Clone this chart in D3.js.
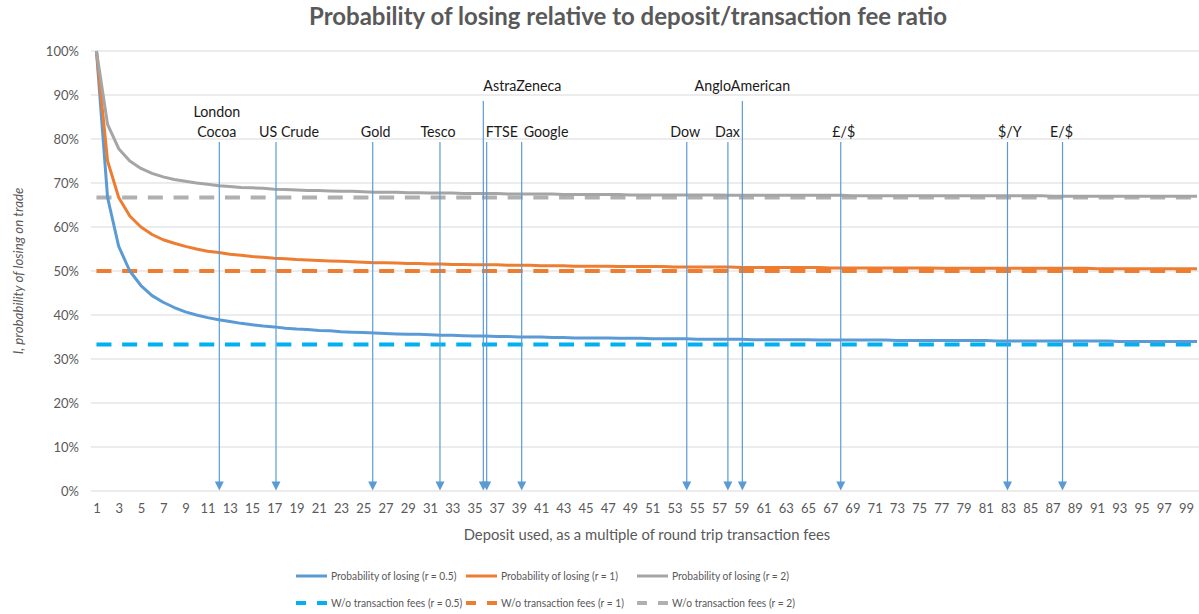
<!DOCTYPE html>
<html>
<head>
<meta charset="utf-8">
<script src="https://cdn.jsdelivr.net/npm/d3@7/dist/d3.min.js"></script>
<style>
  body { margin: 0; background: #fff; }
  svg { font-family: Lato, "Open Sans", sans-serif; }
</style>
</head>
<body>
<svg id="chart" width="1199" height="614"></svg>
<script>
// Deposit as multiple of round trip fees (x categories)
const deposits = d3.range(1, 101)
const xTickLabels = deposits.filter(d => d % 2 === 1)
const yTickLabels = [0, 10, 20, 30, 40, 50, 60, 70, 80, 90, 100]

// Probability of losing (%)
const loseHalf = [
  100, 66.7, 55.6, 50.0, 46.7, 44.4, 42.9, 41.7, 40.7, 40.0,
  39.4, 38.9, 38.5, 38.1, 37.8, 37.5, 37.3, 37.0, 36.8, 36.7,
  36.5, 36.4, 36.2, 36.1, 36.0, 35.9, 35.8, 35.7, 35.6, 35.6,
  35.5, 35.4, 35.4, 35.3, 35.2, 35.2, 35.1, 35.1, 35.0, 35.0,
  35.0, 34.9, 34.9, 34.8, 34.8, 34.8, 34.8, 34.7, 34.7, 34.7,
  34.6, 34.6, 34.6, 34.6, 34.5, 34.5, 34.5, 34.5, 34.5, 34.4,
  34.4, 34.4, 34.4, 34.4, 34.4, 34.3, 34.3, 34.3, 34.3, 34.3,
  34.3, 34.3, 34.2, 34.2, 34.2, 34.2, 34.2, 34.2, 34.2, 34.2,
  34.2, 34.1, 34.1, 34.1, 34.1, 34.1, 34.1, 34.1, 34.1, 34.1,
  34.1, 34.1, 34.0, 34.0, 34.0, 34.0, 34.0, 34.0, 34.0, 34.0
]
const loseOne = [
  100, 75.0, 66.7, 62.5, 60.0, 58.3, 57.1, 56.3, 55.6, 55.0,
  54.5, 54.2, 53.8, 53.6, 53.3, 53.1, 52.9, 52.8, 52.6, 52.5,
  52.4, 52.3, 52.2, 52.1, 52.0, 51.9, 51.9, 51.8, 51.7, 51.7,
  51.6, 51.6, 51.5, 51.5, 51.4, 51.4, 51.4, 51.3, 51.3, 51.3,
  51.2, 51.2, 51.2, 51.1, 51.1, 51.1, 51.1, 51.0, 51.0, 51.0,
  51.0, 51.0, 50.9, 50.9, 50.9, 50.9, 50.9, 50.9, 50.8, 50.8,
  50.8, 50.8, 50.8, 50.8, 50.8, 50.8, 50.7, 50.7, 50.7, 50.7,
  50.7, 50.7, 50.7, 50.7, 50.7, 50.7, 50.6, 50.6, 50.6, 50.6,
  50.6, 50.6, 50.6, 50.6, 50.6, 50.6, 50.6, 50.6, 50.6, 50.6,
  50.5, 50.5, 50.5, 50.5, 50.5, 50.5, 50.5, 50.5, 50.5, 50.5
]
const loseTwo = [
  100, 83.3, 77.8, 75.0, 73.3, 72.2, 71.4, 70.8, 70.4, 70.0,
  69.7, 69.4, 69.2, 69.0, 68.9, 68.8, 68.6, 68.5, 68.4, 68.3,
  68.3, 68.2, 68.1, 68.1, 68.0, 67.9, 67.9, 67.9, 67.8, 67.8,
  67.7, 67.7, 67.7, 67.6, 67.6, 67.6, 67.6, 67.5, 67.5, 67.5,
  67.5, 67.5, 67.4, 67.4, 67.4, 67.4, 67.4, 67.4, 67.3, 67.3,
  67.3, 67.3, 67.3, 67.3, 67.3, 67.3, 67.3, 67.2, 67.2, 67.2,
  67.2, 67.2, 67.2, 67.2, 67.2, 67.2, 67.2, 67.2, 67.1, 67.1,
  67.1, 67.1, 67.1, 67.1, 67.1, 67.1, 67.1, 67.1, 67.1, 67.1,
  67.1, 67.1, 67.1, 67.1, 67.1, 67.1, 67.0, 67.0, 67.0, 67.0,
  67.0, 67.0, 67.0, 67.0, 67.0, 67.0, 67.0, 67.0, 67.0, 67.0
]

// Without transaction fees (flat levels, %)
const noFeeHalf = 33.3
const noFeeOne = 50.0
const noFeeTwo = 66.7

// Markets marked with arrows, at their deposit/fee ratio
const marketNames = ["London Cocoa", "US Crude", "Gold", "Tesco", "AstraZeneca", "FTSE",
  "Google", "Dow", "Dax", "AngloAmerican", "£/$", "$/Y", "E/$"]
const marketRatios = [12.05, 17.15, 25.85, 31.9, 35.8, 36.1, 39.25, 54.1, 57.8, 59.1, 67.95, 82.95, 87.9]

const series = [
  { name: "Probability of losing (r = 0.5)", values: loseHalf, color: "#5b9bd5" },
  { name: "Probability of losing (r = 1)", values: loseOne, color: "#ed7d31" },
  { name: "Probability of losing (r = 2)", values: loseTwo, color: "#a5a5a5" }
]
const levels = [
  { name: "W/o transaction fees (r = 0.5)", value: noFeeHalf, color: "#00b0f0" },
  { name: "W/o transaction fees (r = 1)", value: noFeeOne, color: "#ed7d31" },
  { name: "W/o transaction fees (r = 2)", value: noFeeTwo, color: "#b0b0b0" }
]

const svg = d3.select("#chart")
const width = 1199
const height = 614
const textGrey = "#595959"

svg.append("rect").attr("width", width).attr("height", height).attr("fill", "#fff")

// Scales: category centres, 0.5 either side
const x = d3.scaleLinear().domain([0.5, 100.5]).range([90.9, 1202.6])
const y = d3.scaleLinear().domain([0, 100]).range([491, 51])

// Gridlines
svg.append("g")
  .selectAll("line")
  .data(yTickLabels)
  .join("line")
  .attr("x1", x(0.5))
  .attr("x2", x(100.5))
  .attr("y1", d => y(d))
  .attr("y2", d => y(d))
  .attr("stroke", "#d9d9d9")
  .attr("stroke-width", 1)

// Y axis labels
const axisY = svg.append("g")
  .attr("transform", `translate(${x(0.5)}, 0)`)
  .call(d3.axisLeft(y).tickValues(yTickLabels).tickFormat(d => d + "%").tickSize(0).tickPadding(12))
axisY.select(".domain").remove()
axisY.selectAll("text")
  .style("font-size", "13px")
  .style("font-family", "Lato, sans-serif")
  .attr("fill", textGrey)

// X axis labels
const axisX = svg.append("g")
  .attr("transform", `translate(0, ${y(0)})`)
  .call(d3.axisBottom(x).tickValues(xTickLabels).tickFormat(d3.format("d")).tickSize(0).tickPadding(13))
axisX.select(".domain").remove()
axisX.selectAll("text")
  .style("font-size", "13px")
  .style("font-family", "Lato, sans-serif")
  .attr("fill", textGrey)

// Flat "without fees" lines
const line = d3.line().x(d => x(d[0])).y(d => y(d[1]))

svg.append("g")
  .selectAll("path")
  .data(levels)
  .join("path")
  .attr("d", d => line([[deposits[0], d.value], [deposits[deposits.length - 1], d.value]]))
  .attr("fill", "none")
  .attr("stroke", d => d.color)
  .attr("stroke-width", 4)
  .attr("stroke-dasharray", "15,10.7")

// Curves
svg.append("g")
  .selectAll("path")
  .data(series)
  .join("path")
  .attr("d", s => line(deposits.map((d, i) => [d, s.values[i]])))
  .attr("fill", "none")
  .attr("stroke", s => s.color)
  .attr("stroke-width", 3)
  .attr("stroke-linejoin", "round")

// Market arrows
const arrowBlue = "#5b9bd5"
const tall = ["AstraZeneca", "AngloAmerican"]
const labelLayout = {
  "London Cocoa": { dx: -2.5, anchor: "middle" },
  "US Crude": { dx: 13, anchor: "middle" },
  "Gold": { dx: 3, anchor: "middle" },
  "Tesco": { dx: -2, anchor: "middle" },
  "AstraZeneca": { dx: 0, anchor: "start" },
  "FTSE": { dx: -1, anchor: "start" },
  "Google": { dx: 2, anchor: "start" },
  "Dow": { dx: -1.5, anchor: "middle" },
  "Dax": { dx: -0.5, anchor: "middle" },
  "AngloAmerican": { dx: 0, anchor: "middle" },
  "£/$": { dx: 3, anchor: "middle" },
  "$/Y": { dx: 2.3, anchor: "middle" },
  "E/$": { dx: -1, anchor: "middle" }
}

const markets = marketNames.map((name, i) => ({ name, at: marketRatios[i] }))
const arrows = svg.append("g")
  .selectAll("g")
  .data(markets)
  .join("g")

arrows.append("line")
  .attr("x1", d => x(d.at))
  .attr("x2", d => x(d.at))
  .attr("y1", d => tall.includes(d.name) ? 101 : 142)
  .attr("y2", y(0) - 8)
  .attr("stroke", arrowBlue)
  .attr("stroke-width", 1.2)

arrows.append("path")
  .attr("d", d => {
    const cx = x(d.at)
    const tip = y(0) - 0.5
    return `M${cx - 4.5},${tip - 9}L${cx + 4.5},${tip - 9}L${cx},${tip}Z`
  })
  .attr("fill", arrowBlue)

// Labels: Lato is wider than the original face, so squeeze it a little
arrows.append("text")
  .attr("transform", d => `translate(${x(d.at) + labelLayout[d.name].dx}, ${tall.includes(d.name) ? 90.5 : 136.5}) scale(0.92, 1)`)
  .attr("text-anchor", d => labelLayout[d.name].anchor)
  .style("font-size", "15.5px")
  .attr("fill", "#1a1a1a")
  .each(function (d) {
    const t = d3.select(this)
    if (d.name === "London Cocoa") {
      t.append("tspan").attr("x", 0).attr("dy", -20).text("London")
      t.append("tspan").attr("x", 0).attr("dy", 20).text("Cocoa")
    } else {
      t.text(d.name)
    }
  })

// Title
svg.append("text")
  .attr("x", 628)
  .attr("y", 25)
  .attr("text-anchor", "middle")
  .style("font-size", "24px")
  .style("font-weight", "bold")
  .attr("fill", textGrey)
  .text("Probability of losing relative to deposit/transaction fee ratio")

// Axis titles
svg.append("text")
  .attr("transform", `translate(23, 271) rotate(-90)`)
  .attr("text-anchor", "middle")
  .style("font-size", "13.3px")
  .style("font-style", "italic")
  .attr("fill", textGrey)
  .text("I, probability of losing on trade")

svg.append("text")
  .attr("x", 647)
  .attr("y", 540)
  .attr("text-anchor", "middle")
  .style("font-size", "14.8px")
  .attr("fill", textGrey)
  .text("Deposit used, as a multiple of round trip transaction fees")

// Legend
const legendX = [296, 466, 637]
const legend = svg.append("g")

const legendText = (g, label) => g.append("text")
  .attr("transform", "translate(35, 4) scale(0.84, 1)")
  .style("font-size", "12.2px")
  .attr("fill", textGrey)
  .text(label)

series.forEach((s, i) => {
  const g = legend.append("g").attr("transform", `translate(${legendX[i]}, 576)`)
  g.append("line").attr("x1", 0).attr("x2", 31).attr("stroke", s.color).attr("stroke-width", 3)
  legendText(g, s.name)
})

levels.forEach((s, i) => {
  const g = legend.append("g").attr("transform", `translate(${legendX[i]}, 603)`)
  g.append("line").attr("x1", 0).attr("x2", 31).attr("stroke", s.color).attr("stroke-width", 4)
    .attr("stroke-dasharray", "10,11")
  legendText(g, s.name)
})
</script>
</body>
</html>
